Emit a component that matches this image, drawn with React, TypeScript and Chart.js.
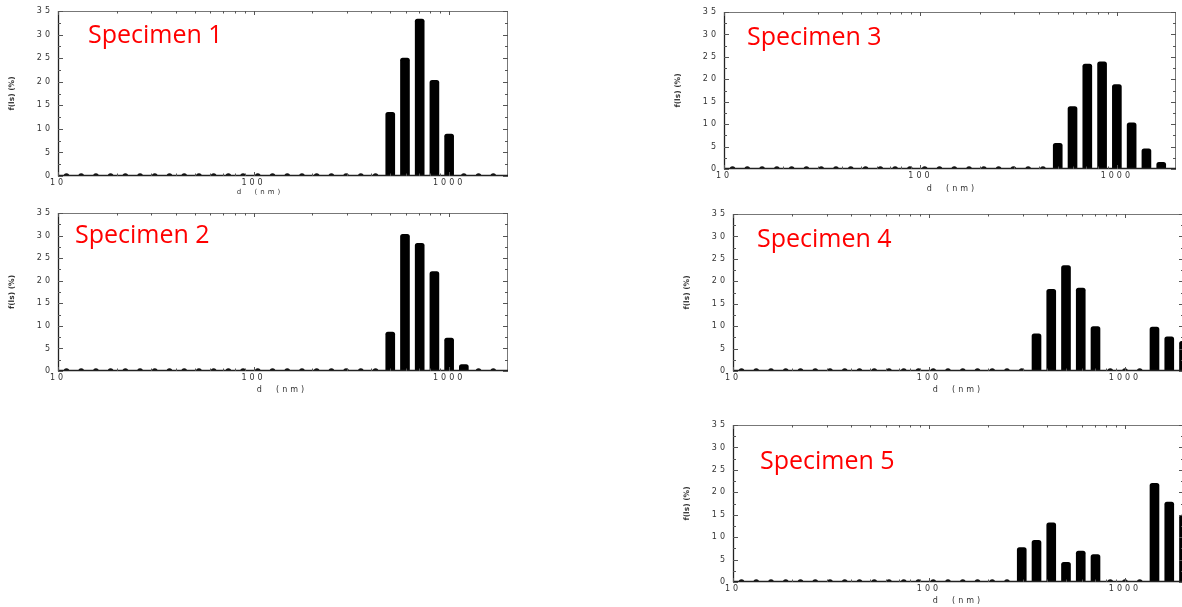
import React, { useEffect, useRef } from "react";
import { Chart, registerables } from "chart.js";

Chart.register(...registerables);

// Particle size bins (nm) of the size-distribution histogram
const binSizes = [
  11.05, 13.14, 15.63, 18.58, 22.1, 26.28, 31.25, 37.16, 44.19, 52.56, 62.5,
  74.33, 88.39, 105.1, 125, 148.7, 176.8, 210.2, 250, 297.3, 353.6, 420.4, 500,
  594.6, 707.1, 840.9, 1000, 1189, 1414, 1682, 2000,
];

// Frequency f(ls) (%) per bin
const specimen1 = [
  0, 0, 0, 0, 0, 0, 0, 0, 0, 0, 0, 0, 0, 0, 0, 0, 0, 0, 0, 0, 0, 0,
  13.5, 25.0, 33.3, 20.3, 8.9, 0, 0, 0,
];
const specimen2 = [
  0, 0, 0, 0, 0, 0, 0, 0, 0, 0, 0, 0, 0, 0, 0, 0, 0, 0, 0, 0, 0, 0,
  8.6, 30.3, 28.3, 22.0, 7.3, 1.4, 0, 0,
];
const specimen3 = [
  0, 0, 0, 0, 0, 0, 0, 0, 0, 0, 0, 0, 0, 0, 0, 0, 0, 0, 0, 0, 0, 0,
  5.7, 13.9, 23.4, 23.9, 18.8, 10.3, 4.5, 1.5,
];
const specimen4 = [
  0, 0, 0, 0, 0, 0, 0, 0, 0, 0, 0, 0, 0, 0, 0, 0, 0, 0, 0, 0,
  8.3, 18.2, 23.5, 18.5, 9.9, 0, 0, 0, 9.8, 7.6, 6.6,
];
const specimen5 = [
  0, 0, 0, 0, 0, 0, 0, 0, 0, 0, 0, 0, 0, 0, 0, 0, 0, 0, 0,
  7.7, 9.3, 13.2, 4.4, 6.9, 6.1, 0, 0, 0, 22.0, 17.8, 14.9,
];

const specimenNames = ["Specimen 1", "Specimen 2", "Specimen 3", "Specimen 4", "Specimen 5"];
const xTickValues = [10, 100, 1000];
const yMax = 35;
const yStep = 5;
const xMin = 10;
const xMax = 2000;
const yTitle = "f(ls) (%)";
const xTitle = "d  (nm)";

// Layout (page pixel positions of each plot area) — styles only
const layouts = [
  { l: 58, t: 11, r: 508, b: 176, lx: 30, ly: 32, tx: 202, ty: 16.5, tf: 7 },
  { l: 58, t: 213, r: 508, b: 371, lx: 17, ly: 30, tx: 224, ty: 19, tf: 8 },
  { l: 724, t: 12, r: 1176, b: 169, lx: 23, ly: 33, tx: 228, ty: 19.5, tf: 8 },
  { l: 733, t: 214, r: 1184, b: 371, lx: 24, ly: 33, tx: 225, ty: 19, tf: 8 },
  { l: 733, t: 425, r: 1184, b: 582, lx: 27, ly: 44, tx: 225, ty: 19, tf: 8 },
];
const seriesList = [specimen1, specimen2, specimen3, specimen4, specimen5];

const AXIS_W = 58;
const RIGHT_PAD = 10;
const BOTTOM_H = 30;
const TICK_FONT = { family: "'DejaVu Sans', sans-serif", size: 8 };
const TEXT_COLOR = "#333";

type Lay = (typeof layouts)[number];

function Panel({ name, values, lay }: { name: string; values: number[]; lay: Lay }) {
  const ref = useRef<HTMLCanvasElement>(null);
  const padTop = Math.min(12, lay.t);
  const w = AXIS_W + (lay.r - lay.l) + RIGHT_PAD;
  const h = padTop + (lay.b - lay.t) + BOTTOM_H;
  const left = lay.l - AXIS_W;
  const top = lay.t - padTop;

  useEffect(() => {
    if (!ref.current) return;
    const barData = values.map((v, i) => ({ x: binSizes[i], y: v }));
    const dotData = values
      .map((v, i) => (v === 0 ? { x: binSizes[i], y: 0 } : null))
      .filter((d) => d !== null) as { x: number; y: number }[];

    const spacing = {
      id: "spacing",
      beforeDraw(chart: any) {
        chart.ctx.letterSpacing = "3px";
      },
    };

    const decor = {
      id: "decor",
      afterDraw(chart: any) {
        const ctx = chart.ctx as CanvasRenderingContext2D & { letterSpacing: string };
        const { left: L, top: T, right: R, bottom: B } = chart.chartArea;
        const xs = chart.scales.x;
        const ys = chart.scales.y;
        ctx.save();
        // frame: top & right
        ctx.strokeStyle = "#777";
        ctx.lineWidth = 1;
        ctx.beginPath();
        ctx.moveTo(L, T + 0.5);
        ctx.lineTo(R, T + 0.5);
        ctx.moveTo(R - 0.5, T);
        ctx.lineTo(R - 0.5, B);
        ctx.stroke();
        // frame: left & bottom
        ctx.strokeStyle = "#222";
        ctx.lineWidth = 1.3;
        ctx.beginPath();
        ctx.moveTo(L + 0.5, T);
        ctx.lineTo(L + 0.5, B - 0.5);
        ctx.lineTo(R, B - 0.5);
        ctx.stroke();
        // inner y ticks
        ctx.strokeStyle = "#555";
        ctx.lineWidth = 1;
        ctx.beginPath();
        for (let v = 0; v <= yMax; v += yStep / 2) {
          const y = Math.round(ys.getPixelForValue(v)) + 0.5;
          const len = v % yStep === 0 ? 5 : 3;
          ctx.moveTo(L, y);
          ctx.lineTo(L + len, y);
          ctx.moveTo(R, y);
          ctx.lineTo(R - len, y);
        }
        // inner x ticks (log)
        for (const dec of xTickValues) {
          for (let k = 1; k <= 9; k++) {
            const v = dec * k;
            if (v >= xMax) break;
            const x = Math.round(xs.getPixelForValue(v)) + 0.5;
            const len = k === 1 ? 4 : 2.5;
            ctx.moveTo(x, T);
            ctx.lineTo(x, T + len);
            ctx.moveTo(x, B);
            ctx.lineTo(x, B - len);
          }
        }
        ctx.stroke();

        // x title
        ctx.fillStyle = TEXT_COLOR;
        ctx.letterSpacing = "3px";
        ctx.font = `${lay.tf}px 'DejaVu Sans', sans-serif`;
        ctx.textAlign = "center";
        ctx.textBaseline = "middle";
        ctx.fillText(xTitle, L + lay.tx, B + lay.ty);

        // y title
        ctx.letterSpacing = "0px";
        ctx.font = "bold 7.5px 'DejaVu Sans', sans-serif";
        ctx.save();
        ctx.translate(L - 46, (T + B) / 2);
        ctx.rotate(-Math.PI / 2);
        ctx.fillText(yTitle, 0, 0);
        ctx.restore();

        // specimen label
        ctx.fillStyle = "#ff0000";
        ctx.font = "25px 'Open Sans', sans-serif";
        ctx.textAlign = "left";
        ctx.textBaseline = "alphabetic";
        ctx.fillText(name, L + lay.lx, T + lay.ly);
        ctx.restore();
      },
    };

    const chart = new Chart(ref.current, {
      type: "bar",
      data: {
        datasets: [
          {
            type: "bar",
            data: barData as any,
            backgroundColor: "#000",
            borderWidth: 0,
            barThickness: 9,
            borderRadius: { topLeft: 2.5, topRight: 2.5, bottomLeft: 0, bottomRight: 0 },
            borderSkipped: false,
            clip: 0,
          } as any,
          {
            type: "scatter",
            data: dotData as any,
            backgroundColor: "#111",
            borderWidth: 0,
            pointRadius: 2.8,
            clip: 0,
          } as any,
        ],
      },
      options: {
        animation: false,
        responsive: false,
        events: [],
        layout: { padding: { top: padTop, right: RIGHT_PAD, left: 0, bottom: 0 } },
        plugins: { legend: { display: false }, tooltip: { enabled: false }, title: { display: false } },
        scales: {
          x: {
            type: "logarithmic",
            min: xMin,
            max: xMax,
            offset: false,
            grid: { display: false, drawTicks: false },
            border: { display: false },
            afterBuildTicks: (s: any) => {
              s.ticks = xTickValues.map((v) => ({ value: v }));
            },
            afterFit: (s: any) => {
              s.height = BOTTOM_H;
            },
            ticks: {
              autoSkip: false,
              maxRotation: 0,
              minRotation: 0,
              padding: 2,
              color: TEXT_COLOR,
              font: TICK_FONT,
              callback: (v: any) => String(v),
            },
          },
          y: {
            type: "linear",
            min: 0,
            max: yMax,
            grid: { display: false, drawTicks: false },
            border: { display: false },
            afterFit: (s: any) => {
              s.width = AXIS_W;
            },
            ticks: { stepSize: yStep, padding: 5, color: TEXT_COLOR, font: TICK_FONT },
          },
        },
      } as any,
      plugins: [spacing, decor],
    });
    return () => chart.destroy();
  }, []);

  return (
    <canvas
      ref={ref}
      width={w}
      height={h}
      style={{ position: "absolute", left, top, width: w, height: h }}
    />
  );
}

export default function App() {
  return (
    <div
      style={{
        position: "fixed",
        left: 0,
        top: 0,
        width: 1182,
        height: 607,
        overflow: "hidden",
        background: "#fff",
      }}
    >
      {specimenNames.map((n, i) => (
        <Panel key={n} name={n} values={seriesList[i]} lay={layouts[i]} />
      ))}
    </div>
  );
}
